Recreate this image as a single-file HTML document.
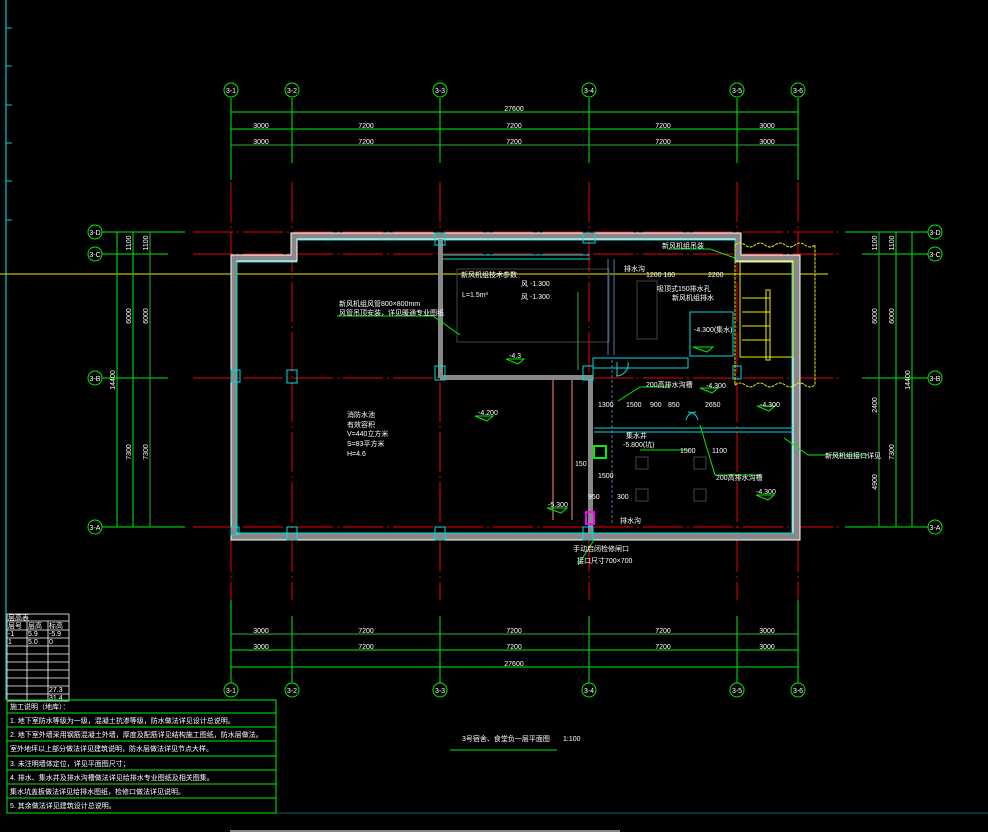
<!DOCTYPE html><html><head><meta charset="utf-8"><style>body{margin:0;background:#000}svg{display:block}text{font-family:"Liberation Sans","Noto Sans CJK SC",sans-serif;fill:#fff;font-size:7px}</style></head><body>
<svg width="988" height="832" viewBox="0 0 988 832">
<rect width="988" height="832" fill="#000"/>
<line x1="6" y1="0" x2="6" y2="700" stroke="#0cc" stroke-width="1.2"/>
<g stroke="#0cc"><line x1="6" y1="28" x2="12" y2="28"/><line x1="6" y1="66" x2="12" y2="66"/><line x1="6" y1="105" x2="12" y2="105"/><line x1="6" y1="143" x2="12" y2="143"/><line x1="6" y1="181" x2="12" y2="181"/><line x1="6" y1="220" x2="12" y2="220"/></g>
<line x1="0" y1="274" x2="828" y2="274" stroke="#ee0"/>
<g stroke="#e00" stroke-width="1" stroke-dasharray="40,4,2,4">
<line x1="231" y1="182" x2="231" y2="600"/><line x1="292" y1="182" x2="292" y2="600"/><line x1="440" y1="182" x2="440" y2="600"/><line x1="589" y1="182" x2="589" y2="600"/><line x1="737" y1="182" x2="737" y2="600"/><line x1="798" y1="182" x2="798" y2="600"/>
<line x1="193" y1="232" x2="840" y2="232"/><line x1="193" y1="254" x2="840" y2="254"/><line x1="193" y1="378" x2="840" y2="378"/><line x1="193" y1="527" x2="840" y2="527"/>
</g>
<g stroke="#0e0" stroke-width="1" fill="none">
<line x1="231" y1="112" x2="798" y2="112"/><line x1="231" y1="129" x2="798" y2="129"/><line x1="231" y1="145" x2="798" y2="145" stroke="#3a3"/>
<line x1="231" y1="98" x2="231" y2="180"/><line x1="292" y1="98" x2="292" y2="163"/><line x1="440" y1="98" x2="440" y2="163"/><line x1="589" y1="98" x2="589" y2="163"/><line x1="737" y1="98" x2="737" y2="163"/><line x1="798" y1="98" x2="798" y2="180"/>
<line x1="231" y1="634" x2="798" y2="634" stroke="#3a3"/><line x1="231" y1="650" x2="798" y2="650"/><line x1="231" y1="667" x2="798" y2="667"/>
<line x1="231" y1="600" x2="231" y2="683"/><line x1="292" y1="616" x2="292" y2="683"/><line x1="440" y1="616" x2="440" y2="683"/><line x1="589" y1="616" x2="589" y2="683"/><line x1="737" y1="616" x2="737" y2="683"/><line x1="798" y1="600" x2="798" y2="683"/>
<line x1="102" y1="232" x2="185" y2="232"/><line x1="102" y1="254" x2="168" y2="254"/><line x1="102" y1="378" x2="168" y2="378"/><line x1="102" y1="527" x2="185" y2="527"/>
<line x1="117" y1="232" x2="117" y2="527"/><line x1="133" y1="232" x2="133" y2="527"/><line x1="150" y1="232" x2="150" y2="527" stroke="#3a3"/>
<line x1="845" y1="232" x2="928" y2="232"/><line x1="862" y1="254" x2="928" y2="254"/><line x1="862" y1="378" x2="928" y2="378"/><line x1="845" y1="527" x2="928" y2="527"/>
<line x1="879" y1="232" x2="879" y2="527" stroke="#3a3"/><line x1="896" y1="232" x2="896" y2="527"/><line x1="912" y1="232" x2="912" y2="527"/>
<circle cx="231" cy="90" r="7"/><circle cx="292" cy="90" r="7"/><circle cx="440" cy="90" r="7"/><circle cx="589" cy="90" r="7"/><circle cx="737" cy="90" r="7"/><circle cx="798" cy="90" r="7"/>
<circle cx="231" cy="690" r="7"/><circle cx="292" cy="690" r="7"/><circle cx="440" cy="690" r="7"/><circle cx="589" cy="690" r="7"/><circle cx="737" cy="690" r="7"/><circle cx="798" cy="690" r="7"/>
<circle cx="95" cy="232" r="7"/><circle cx="95" cy="254" r="7"/><circle cx="95" cy="378" r="7"/><circle cx="95" cy="527" r="7"/>
<circle cx="935" cy="232" r="7"/><circle cx="935" cy="254" r="7"/><circle cx="935" cy="378" r="7"/><circle cx="935" cy="527" r="7"/>
</g>
<g text-anchor="middle">
<text x="231" y="93">3-1</text><text x="292" y="93">3-2</text><text x="440" y="93">3-3</text><text x="589" y="93">3-4</text><text x="737" y="93">3-5</text><text x="798" y="93">3-6</text>
<text x="231" y="693">3-1</text><text x="292" y="693">3-2</text><text x="440" y="693">3-3</text><text x="589" y="693">3-4</text><text x="737" y="693">3-5</text><text x="798" y="693">3-6</text>
<text x="95" y="235">3-D</text><text x="95" y="257">3-C</text><text x="95" y="381">3-B</text><text x="95" y="530">3-A</text>
<text x="935" y="235">3-D</text><text x="935" y="257">3-C</text><text x="935" y="381">3-B</text><text x="935" y="530">3-A</text>
<text x="514" y="111">27600</text>
<text x="261" y="128">3000</text><text x="366" y="128">7200</text><text x="514" y="128">7200</text><text x="663" y="128">7200</text><text x="767" y="128">3000</text>
<text x="261" y="144">3000</text><text x="366" y="144">7200</text><text x="514" y="144">7200</text><text x="663" y="144">7200</text><text x="767" y="144">3000</text>
<text x="261" y="633">3000</text><text x="366" y="633">7200</text><text x="514" y="633">7200</text><text x="663" y="633">7200</text><text x="767" y="633">3000</text>
<text x="261" y="649">3000</text><text x="366" y="649">7200</text><text x="514" y="649">7200</text><text x="663" y="649">7200</text><text x="767" y="649">3000</text>
<text x="514" y="666">27600</text>
</g>
<g text-anchor="middle">
<text transform="translate(131,243) rotate(-90)">1100</text><text transform="translate(148,243) rotate(-90)">1100</text>
<text transform="translate(131,316) rotate(-90)">6000</text><text transform="translate(148,316) rotate(-90)">6000</text>
<text transform="translate(115,380) rotate(-90)">14400</text>
<text transform="translate(131,452) rotate(-90)">7300</text><text transform="translate(148,452) rotate(-90)">7300</text>
<text transform="translate(877,243) rotate(-90)">1100</text><text transform="translate(894,243) rotate(-90)">1100</text>
<text transform="translate(877,316) rotate(-90)">6000</text><text transform="translate(894,316) rotate(-90)">6000</text>
<text transform="translate(910,380) rotate(-90)">14400</text>
<text transform="translate(877,405) rotate(-90)">2400</text><text transform="translate(877,482) rotate(-90)">4900</text><text transform="translate(894,452) rotate(-90)">7300</text>
</g>
<path d="M291 233 H741 V255 H800 V540 H231 V255 H291 Z M297 239 V261 H237 V533 H793 V261 H735 V239 Z" fill="#888" fill-rule="evenodd" stroke="#fff" stroke-width="1"/>
<g fill="#888"><rect x="438" y="239" width="5" height="139"/><rect x="440" y="375" width="153" height="5"/><rect x="588" y="378" width="5" height="160"/></g>
<g fill="none" stroke="#0dd" stroke-width="1">
<path d="M297 240 H735 M237 262 V533 M238 533 H793 M792 262 V533 M237 262 H297 M735 240 V262 H792"/>
<rect x="435" y="233" width="10" height="12"/><rect x="583" y="233" width="12" height="10"/><rect x="231" y="370" width="9" height="12"/><rect x="287" y="370" width="10" height="13"/><rect x="435" y="366" width="10" height="14"/><rect x="583" y="366" width="10" height="14"/><rect x="733" y="366" width="8" height="13"/>
<rect x="287" y="527" width="10" height="13"/><rect x="435" y="527" width="10" height="13"/><rect x="583" y="527" width="10" height="13"/><rect x="231" y="527" width="8" height="8"/>
<line x1="443" y1="255" x2="590" y2="255"/><line x1="443" y1="259" x2="590" y2="259"/>
<line x1="594" y1="428" x2="793" y2="428"/><line x1="594" y1="432" x2="793" y2="432"/>
<rect x="690" y="312" width="43" height="44"/><rect x="593" y="358" width="95" height="10"/>
<path d="M617 362 v14 M628 362 a12 12 0 0 1 -12 14 M686 420 a10 10 0 0 1 10 -8 M698 420 a10 10 0 0 0 -10 -8"/>
</g>
<rect x="457" y="269" width="152" height="73" fill="none" stroke="#444"/>
<rect x="637" y="281" width="20" height="58" fill="none" stroke="#444"/>
<g stroke="#57a" fill="none"><line x1="608" y1="259" x2="608" y2="355"/><line x1="614" y1="259" x2="614" y2="355"/><line x1="612" y1="360" x2="612" y2="525" stroke-dasharray="3,2"/></g>
<g stroke="#f88"><line x1="553" y1="380" x2="553" y2="520"/><line x1="572" y1="380" x2="572" y2="520"/></g>
<g stroke="#ee0" fill="none"><rect x="740" y="262" width="53" height="95"/><line x1="742" y1="298" x2="770" y2="298"/><line x1="742" y1="312" x2="770" y2="312"/><line x1="742" y1="326" x2="770" y2="326"/><line x1="742" y1="340" x2="770" y2="340"/><rect x="766" y="290" width="4" height="70"/></g>
<path d="M735 245 q5 -4 10 0 t10 0 t10 0 t10 0 t10 0 t10 0 t10 0 t10 0 V385 q-5 4 -10 0 t-10 0 t-10 0 t-10 0 t-10 0 t-10 0 t-10 0 t-10 0 Z" fill="none" stroke="#ee0" stroke-dasharray="3,1"/>
<rect x="594" y="446" width="12" height="12" fill="none" stroke="#0e0" stroke-width="2"/>
<rect x="586" y="512" width="8" height="12" fill="none" stroke="#f0f" stroke-width="2"/>
<rect x="636" y="457" width="12" height="12" fill="none" stroke="#444"/><rect x="694" y="457" width="12" height="12" fill="none" stroke="#444"/><rect x="636" y="489" width="12" height="12" fill="none" stroke="#444"/><rect x="694" y="489" width="12" height="12" fill="none" stroke="#444"/>
<g stroke="#0e0" fill="none"><polyline points="337,316 433,316 460,335"/><polyline points="594,540 578,565"/><polyline points="784,438 808,455 868,455"/><polyline points="668,249 710,249 735,258"/><line x1="578" y1="292" x2="578" y2="370" stroke="#3a3"/>
<polyline points="618,401 640,387 670,387"/><polyline points="640,450 690,450"/><polyline points="700,425 715,475 760,475"/><path d="M506 359 h18 l-6 5z M475 416 h18 l-6 5z M700 388 h18 l-6 5z M757 406 h18 l-6 5z M756 495 h18 l-6 5z M547 508 h20 l-6 5z M693 347 h20 l-6 5z"/></g>
<g font-size="6.5">
<text x="662" y="248">新风机组吊装</text><text x="646" y="277">1200 180</text><text x="708" y="277">2200</text><text x="657" y="291">吸顶式150排水孔</text><text x="672" y="300">新风机组排水</text>
<text x="624" y="271">排水沟</text><text x="694" y="332">-4.300(集水)</text><text x="646" y="387">200高排水沟槽</text><text x="706" y="388">-4.300</text>
<text x="626" y="407">1500</text><text x="650" y="407">900</text><text x="668" y="407">850</text><text x="705" y="407">2650</text><text x="598" y="407">1300</text><text x="760" y="407">-4.300</text>
<text x="623" y="447">-5.800(坑)</text><text x="626" y="438">集水井</text><text x="680" y="453">1500</text><text x="712" y="453">1100</text><text x="716" y="480">200高排水沟槽</text>
<text x="598" y="478">1500</text><text x="575" y="466">150</text><text x="588" y="499">950</text><text x="617" y="499">300</text><text x="756" y="494">-4.300</text><text x="620" y="523">排水沟</text>
<text x="548" y="507">-5.300</text><text x="478" y="415">-4.200</text><text x="509" y="358">-4.3</text>
<text x="825" y="458">新风机组接口详见</text><text x="573" y="551">手动启闭检修闸口</text><text x="577" y="563">接口尺寸700×700</text>
<text x="339" y="306">新风机组风管800×800mm</text><text x="339" y="315">风管吊顶安装，详见暖通专业图纸</text>
<text x="461" y="277" fill="#999">新风机组技术参数</text><text x="462" y="297" fill="#999">L=1.5m³</text><text x="521" y="286" fill="#999">风 -1.300</text><text x="521" y="299" fill="#999">风 -1.300</text>
<text x="347" y="417" fill="#999">消防水池</text><text x="347" y="427" fill="#999">有效容积</text><text x="347" y="436" fill="#999">V=440立方米</text><text x="347" y="446" fill="#999">S=83平方米</text><text x="347" y="456" fill="#999">H=4.6</text>
</g>
<g stroke="#fff" fill="none" stroke-width="0.8"><rect x="7" y="614" width="62" height="87"/>
<line x1="27" y1="621" x2="27" y2="701"/><line x1="48" y1="621" x2="48" y2="701"/>
<line x1="7" y1="621" x2="69" y2="621"/><line x1="7" y1="630" x2="69" y2="630"/><line x1="7" y1="638" x2="69" y2="638"/><line x1="7" y1="646" x2="69" y2="646"/><line x1="7" y1="654" x2="69" y2="654"/><line x1="7" y1="662" x2="69" y2="662"/><line x1="7" y1="670" x2="69" y2="670"/><line x1="7" y1="678" x2="69" y2="678"/><line x1="7" y1="686" x2="69" y2="686"/><line x1="7" y1="694" x2="69" y2="694"/></g>
<g font-size="5"><text x="8" y="620">层高表</text><text x="8" y="628">层号</text><text x="28" y="628">层高</text><text x="49" y="628">标高</text><text x="8" y="636">-1</text><text x="28" y="636">5.9</text><text x="49" y="636">-5.9</text><text x="8" y="644">1</text><text x="28" y="644">5.0</text><text x="49" y="644">0</text><text x="49" y="692">27.3</text><text x="49" y="700">31.4</text></g>
<g stroke="#0e0" fill="none" stroke-width="1"><rect x="7" y="700" width="269" height="113"/><line x1="7" y1="713" x2="276" y2="713"/><line x1="7" y1="727" x2="276" y2="727"/><line x1="7" y1="741" x2="276" y2="741"/><line x1="7" y1="756" x2="276" y2="756"/><line x1="7" y1="770" x2="276" y2="770"/><line x1="7" y1="784" x2="276" y2="784"/><line x1="7" y1="798" x2="276" y2="798"/>
<line x1="450" y1="750" x2="557" y2="750"/></g>
<line x1="276" y1="813" x2="988" y2="813" stroke="#0cc" stroke-width="0.6"/>
<line x1="230" y1="831" x2="620" y2="831" stroke="#888" stroke-width="2"/>
<g font-size="5.5"><text x="10" y="709">施工说明（地库）：</text><text x="10" y="723">1. 地下室防水等级为一级，混凝土抗渗等级，防水做法详见设计总说明。</text><text x="10" y="737">2. 地下室外墙采用钢筋混凝土外墙，厚度及配筋详见结构施工图纸，防水层做法。</text><text x="10" y="751">室外地坪以上部分做法详见建筑说明，防水层做法详见节点大样。</text><text x="10" y="766">3. 未注明墙体定位，详见平面图尺寸；</text><text x="10" y="780">4. 排水、集水井及排水沟槽做法详见给排水专业图纸及相关图集。</text><text x="10" y="794">集水坑盖板做法详见给排水图纸，检修口做法详见说明。</text><text x="10" y="808">5. 其余做法详见建筑设计总说明。</text></g>
<text x="462" y="741" font-size="8.5">3号宿舍、食堂负一层平面图</text><text x="563" y="741" font-size="6">1:100</text>
</svg></body></html>
